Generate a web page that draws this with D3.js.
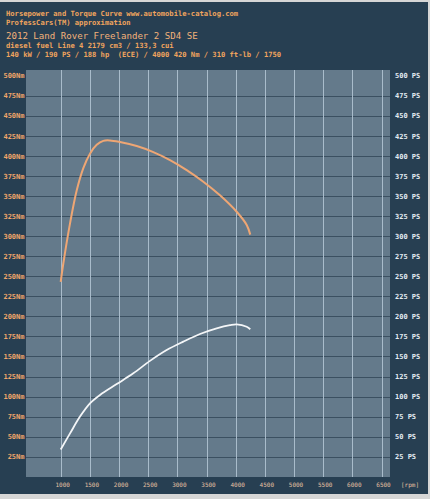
<!DOCTYPE html>
<html>
<head>
<meta charset="utf-8">
<script src="https://cdn.jsdelivr.net/npm/d3@7"></script>
<style>
body { margin: 0; background: #d6d6d6; }
text { font-family: "DejaVu Sans Mono", monospace; white-space: pre; }
</style>
</head>
<body>
<script>
// torque curve (Nm) and power curve (PS)
var torqueRpm = [1000, 1045, 1160, 1274, 1388, 1502, 1617, 1730, 1845, 2017, 2303, 2588, 2874, 3160, 3445, 3731, 4017, 4189, 4250];
var torqueNm  = [243, 266, 316, 357, 385, 403, 414, 419, 419.5, 417.5, 412.5, 405, 395, 382.5, 368, 351, 330.5, 314, 302];
var powerRpm  = [1000, 1160, 1331, 1502, 1674, 1960, 2245, 2531, 2817, 3102, 3388, 3674, 3903, 4017, 4189, 4250];
var powerPS   = [34, 54, 75, 91.5, 102, 115.5, 129, 144.5, 158, 168.5, 178, 185, 189, 190, 187, 184];

var rpmTicks = [1000, 1500, 2000, 2500, 3000, 3500, 4000, 4500, 5000, 5500, 6000, 6500];
var valTicks = [25, 50, 75, 100, 125, 150, 175, 200, 225, 250, 275, 300, 325, 350, 375, 400, 425, 450, 475, 500];

var titleLines = [
	"Horsepower and Torque Curve www.automobile-catalog.com",
	"ProfessCars(TM) approximation",
	"2012 Land Rover Freelander 2 SD4 SE",
	"diesel fuel Line 4 2179 cm3 / 133,3 cui",
	"140 kW / 190 PS / 188 hp  (ECE) / 4000 420 Nm / 310 ft-lb / 1750"
];

var width = 430
var height = 499

var svg = d3.select("body")
	.append("svg")
	.attr("width", width)
	.attr("height", height);

svg.append("rect")
	.attr("x", 0).attr("y", 2)
	.attr("width", 428).attr("height", 492)
	.attr("fill", "#273f52");

var plot = {left: 26, right: 390, top: 70, bottom: 477};

var x = d3.scaleLinear().domain([1000, 6500]).range([60.7, 381.5]);
var y = d3.scaleLinear().domain([0, 500]).range([476.7, 75.9]);

svg.append("rect")
	.attr("x", plot.left).attr("y", plot.top)
	.attr("width", plot.right - plot.left)
	.attr("height", plot.bottom - plot.top)
	.attr("fill", "#647a8b");

// horizontal grid (dark)
svg.selectAll("line.h")
	.data(valTicks.filter(function(d){ return d < 500; }))
	.enter()
	.append("line")
	.attr("class", "h")
	.attr("x1", plot.left).attr("x2", plot.right)
	.attr("y1", function(d){ return Math.round(y(d)) + 0.5; })
	.attr("y2", function(d){ return Math.round(y(d)) + 0.5; })
	.attr("stroke", "#3b5061")
	.attr("stroke-width", 1.2);

// vertical grid (light)
svg.selectAll("line.v")
	.data(rpmTicks)
	.enter()
	.append("line")
	.attr("class", "v")
	.attr("x1", function(d){ return Math.round(x(d)) + 0.5; })
	.attr("x2", function(d){ return Math.round(x(d)) + 0.5; })
	.attr("y1", plot.top).attr("y2", plot.bottom)
	.attr("stroke", "#a9bccb")
	.attr("stroke-width", 1);

// left Nm labels
svg.selectAll("text.nm")
	.data(valTicks)
	.enter()
	.append("text")
	.attr("class", "nm")
	.attr("x", 24.5)
	.attr("y", function(d){ return y(d) + 2.5; })
	.attr("text-anchor", "end")
	.attr("font-size", "7px")
	.attr("font-weight", "bold")
	.attr("fill", "#f0a66a")
	.text(function(d){ return d + "Nm"; });

// right PS labels
svg.selectAll("text.ps")
	.data(valTicks)
	.enter()
	.append("text")
	.attr("class", "ps")
	.attr("x", 395)
	.attr("y", function(d){ return y(d) + 2.5; })
	.attr("font-size", "7px")
	.attr("font-weight", "bold")
	.attr("fill", "#e4ecf2")
	.text(function(d){ return d + " PS"; });

// rpm labels
svg.selectAll("text.rpm")
	.data(rpmTicks)
	.enter()
	.append("text")
	.attr("class", "rpm")
	.attr("x", function(d){ return x(d) + 2; })
	.attr("y", 486.5)
	.attr("text-anchor", "middle")
	.attr("font-size", "6px")
	.attr("fill", "#e6c2a4")
	.text(function(d){ return d; });

svg.append("text")
	.attr("x", 401)
	.attr("y", 486.5)
	.attr("font-size", "6px")
	.attr("fill", "#e6c2a4")
	.text("[rpm]");

// curves
var line = d3.line()
	.x(function(d){ return x(d[0]); })
	.y(function(d){ return y(d[1]); })
	.curve(d3.curveCatmullRom);

svg.append("path")
	.datum(d3.zip(torqueRpm, torqueNm))
	.attr("d", line)
	.attr("fill", "none")
	.attr("stroke", "#eea674")
	.attr("stroke-width", 2);

svg.append("path")
	.datum(d3.zip(powerRpm, powerPS))
	.attr("d", line)
	.attr("fill", "none")
	.attr("stroke", "#f4f6f8")
	.attr("stroke-width", 1.8);

// header texts
var titleY = [15.5, 24.5, 39, 47.5, 56.5];
svg.selectAll("text.title")
	.data(titleLines)
	.enter()
	.append("text")
	.attr("class", "title")
	.attr("x", 6)
	.attr("y", function(d, i){ return titleY[i]; })
	.attr("font-size", function(d, i){ return i == 2 ? "9.1px" : "7.15px"; })
	.attr("font-weight", function(d, i){ return i == 2 ? "normal" : "bold"; })
	.attr("fill", function(d, i){ return i == 2 ? "#f3b27a" : "#f0a45e"; })
	.text(function(d){ return d; });
</script>
</body>
</html>
